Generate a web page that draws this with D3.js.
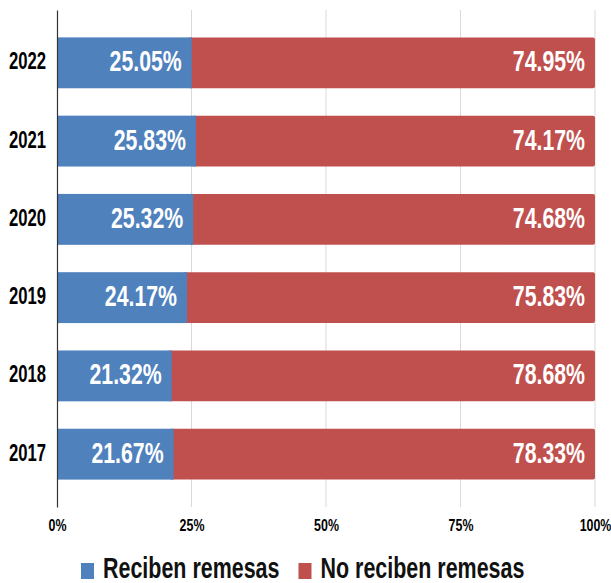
<!DOCTYPE html>
<html>
<head>
<meta charset="utf-8">
<script src="https://cdn.jsdelivr.net/npm/d3@7"></script>
<style>
  body { margin: 0; background: #fff; }
  text { font-family: "Liberation Sans", Arial, sans-serif; font-weight: bold; }
</style>
</head>
<body>
<div id="chart"></div>
<script>
// data
const years = ["2022", "2021", "2020", "2019", "2018", "2017"];
const reciben = [25.05, 25.83, 25.32, 24.17, 21.32, 21.67];
const noReciben = [74.95, 74.17, 74.68, 75.83, 78.68, 78.33];
const ticks = [0, 25, 50, 75, 100];
const seriesNames = ["Reciben remesas", "No reciben remesas"];
const colors = ["#4f81bd", "#c0504d"];

const W = 611, H = 583;
const margin = { top: 10, right: 16, bottom: 76, left: 57 };
const width = W - margin.left - margin.right;
const height = H - margin.top - margin.bottom;
const narrow = 0.71; // condensed look

const svg = d3.select("#chart").append("svg")
  .attr("width", W)
  .attr("height", H);

const g = svg.append("g")
  .attr("transform", "translate(" + margin.left + "," + margin.top + ")");

const x = d3.scaleLinear().domain([0, 100]).range([0, width]);
const y = d3.scaleBand().domain(years).range([0, height]).padding(0.35);

// gridlines
g.selectAll(".grid")
  .data(ticks.slice(1))
  .enter().append("line")
  .attr("class", "grid")
  .attr("x1", d => x(d)).attr("x2", d => x(d))
  .attr("y1", 0).attr("y2", height)
  .attr("stroke", "#d9d9d9")
  .attr("stroke-width", 1);

const rows = years.map((yr, i) => ({ year: yr, a: reciben[i], b: noReciben[i] }));

// red bars (rounded right end), drawn under blue
g.selectAll(".bar-b")
  .data(rows)
  .enter().append("rect")
  .attr("class", "bar-b")
  .attr("x", d => x(d.a) - 4)
  .attr("y", d => y(d.year))
  .attr("width", d => x(d.a + d.b) - x(d.a) + 4)
  .attr("height", y.bandwidth())
  .attr("rx", 2)
  .attr("fill", colors[1]);

g.selectAll(".bar-a")
  .data(rows)
  .enter().append("rect")
  .attr("class", "bar-a")
  .attr("x", x(0))
  .attr("y", d => y(d.year))
  .attr("width", d => x(d.a) - x(0))
  .attr("height", y.bandwidth())
  .attr("fill", colors[0]);

// value labels
const fmt = v => v.toFixed(2) + "%";
function valueLabels(cls, xEnd, val) {
  g.selectAll("." + cls)
    .data(rows)
    .enter().append("text")
    .attr("class", cls)
    .attr("transform", d => "translate(" + (x(xEnd(d)) - 10) + "," + (y(d.year) + y.bandwidth() / 2 + 8.5) + ") scale(" + narrow + ",1)")
    .attr("text-anchor", "end")
    .attr("fill", "#fff")
    .attr("font-size", 30)
    .text(d => fmt(val(d)));
}
valueLabels("lab-a", d => d.a, d => d.a);
valueLabels("lab-b", d => d.a + d.b, d => d.b);

// y axis
const yAxis = g.append("g")
  .call(d3.axisLeft(y).tickSize(0));
yAxis.select(".domain").attr("stroke", "#333").attr("stroke-width", 1.2);
yAxis.selectAll("text")
  .attr("x", 0)
  .attr("dy", null)
  .attr("transform", "translate(-11,6.5) scale(" + narrow + ",1)")
  .attr("font-size", 23.5)
  .attr("fill", "#000")
  .attr("font-family", null);

// x axis labels
const xAxis = g.append("g")
  .attr("transform", "translate(0," + height + ")")
  .call(d3.axisBottom(x).tickValues(ticks).tickFormat(d => d + "%").tickSize(0));
xAxis.select(".domain").remove();
xAxis.selectAll("text")
  .attr("y", 0)
  .attr("dy", null)
  .attr("transform", "translate(0,23.5) scale(0.73,1)")
  .attr("font-size", 17)
  .attr("fill", "#000")
  .attr("font-family", null);

// legend
const legend = svg.append("g").attr("transform", "translate(81,578)");
let lx = 0;
seriesNames.forEach((name, i) => {
  const item = legend.append("g").attr("transform", "translate(" + lx + ",0)");
  item.append("rect")
    .attr("x", 0).attr("y", -15)
    .attr("width", 13).attr("height", 16)
    .attr("fill", colors[i]);
  const t = item.append("text")
    .attr("transform", "translate(22,0) scale(0.74,1)")
    .attr("font-size", 29)
    .attr("fill", "#111")
    .text(name);
  lx += 22 + t.node().getComputedTextLength() * 0.74 + 19;
});
</script>
</body>
</html>
